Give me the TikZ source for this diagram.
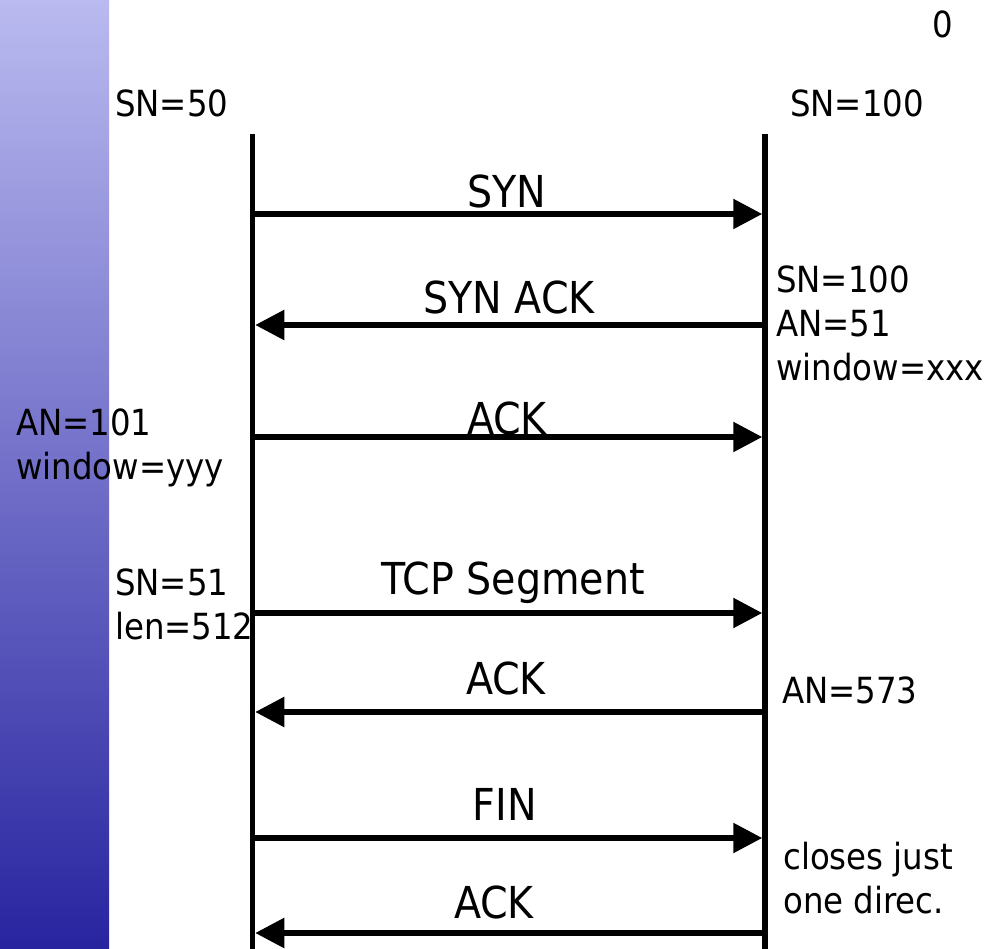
\documentclass[tikz,border=0pt]{standalone}
\usepackage{fontspec}
\setmainfont{DejaVu Sans Condensed}
\usepackage{xcolor}
\usetikzlibrary{arrows.meta}
\definecolor{barTop}{RGB}{186,186,240}
\definecolor{barBottom}{RGB}{40,36,160}

\begin{document}
\begin{tikzpicture}[x=1pt, y=-1pt,
        lifeline/.style={line width=5.5pt},
        toserver/.style={line width=5.5pt, -{Triangle[length=29pt,width=29pt]}, shorten >=2.75pt},
        toclient/.style={line width=5.5pt, {Triangle[length=29pt,width=29pt]}-, shorten <=2.75pt},
        msglabel/.style={anchor=base, inner sep=0pt, font=\fontsize{44}{52}\selectfont},
        note/.style={anchor=base west, inner sep=0pt, align=left, font=\fontsize{36}{44}\selectfont}]
        \useasboundingbox (0,0) rectangle (989,949);
        \shade[top color=barTop, bottom color=barBottom] (0,0) rectangle (109,949);

        % lifelines
        \coordinate (clienttop) at (252.5,134);
        \coordinate (clientbot) at (252.5,949);
        \coordinate (servertop) at (765,134);
        \coordinate (serverbot) at (765,949);
        \draw[lifeline] (clienttop) -- (clientbot);
        \draw[lifeline] (servertop) -- (serverbot);

        % messages
        \foreach \n/\y/\dir/\lx/\ly/\txt in {
                1/214/toserver/507/208/SYN,
                2/325/toclient/509/314/SYN ACK,
                3/437/toserver/507/435/ACK,
                4/613/toserver/513/595/TCP Segment,
                5/712/toclient/506/694/ACK,
                6/838/toserver/505/820/FIN,
                7/933/toclient/494/918/ACK} {
            \coordinate (c\n) at (252.5,\y);
            \coordinate (s\n) at (765,\y);
            \draw[\dir] (c\n) -- (s\n);
            \node[msglabel] (m\n) at (\lx,\ly) {\txt};
        }

        % sequence numbers and notes (base = last line)
        \node[note] (page)    at (932,38)  {0};
        \node[note] (clisn)   at (115,117) {SN=50};
        \node[note] (srvsn)   at (790,117) {SN=100};
        \node[note] (synack)  at (776,381) {SN=100\\AN=51\\window=xxx};
        \node[note] (ack)     at (16,480)  {AN=101\\window=yyy};
        \node[note] (seg)     at (115,640) {SN=51\\len=512};
        \node[note] (segack)  at (782,703) {AN=573};
        \node[note] (close)   at (783,913) {closes just\\one direc.};
    \end{tikzpicture}
\end{document}
